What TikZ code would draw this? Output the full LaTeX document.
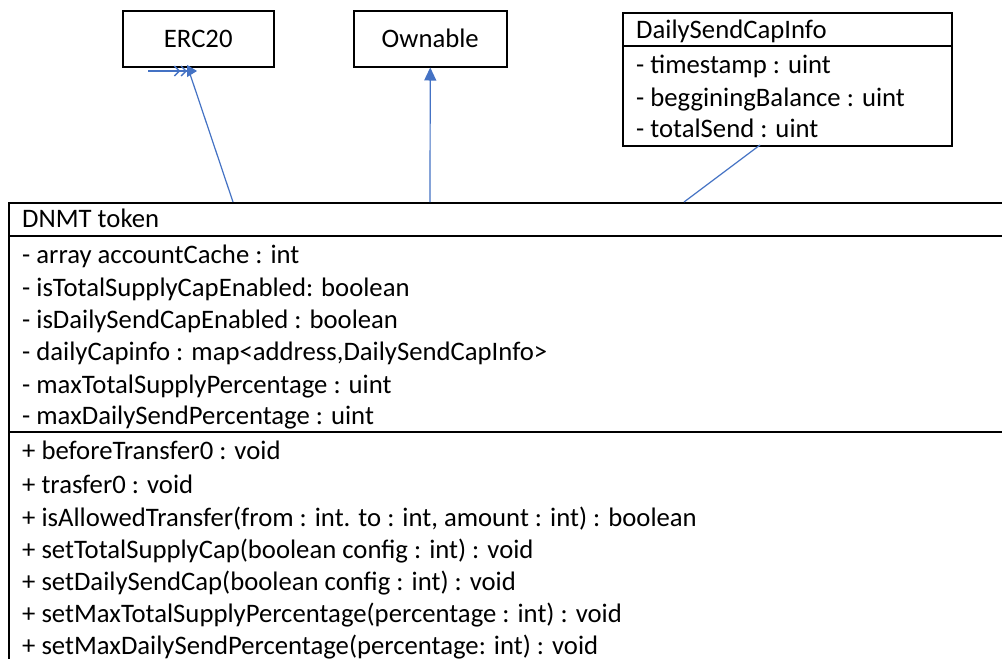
\documentclass[tikz,border=0pt]{standalone}
\usepackage{fontspec}
\setmainfont{Carlito}
\usetikzlibrary{arrows.meta}
\definecolor{umlblue}{RGB}{68,114,196}
\begin{document}
\begin{tikzpicture}[x=1pt,y=-1pt,
  classbox/.style={draw=black, line width=1.5pt, inner sep=0pt, anchor=north west},
  txt/.style={anchor=base west, inner sep=0pt, font=\fontsize{26.7}{30}\selectfont},
  ctxt/.style={inner sep=0pt, font=\fontsize{26.7}{30}\selectfont},
  sep/.style={draw=black, line width=1.5pt},
  link/.style={draw=umlblue, line width=1.2pt}]
\useasboundingbox (0,0) rectangle (1002,659);
\fill[white] (0,0) rectangle (1002,659);

% ERC20 and Ownable
\node[classbox, minimum width=151pt, minimum height=56pt] (erc) at (122,10) {};
\node[ctxt] (erct) at (erc.center) {ERC20};
\node[classbox, minimum width=153pt, minimum height=56pt] (own) at (353,10) {};
\node[ctxt] (ownt) at (own.center) {Ownable};

% DailySendCapInfo
\node[classbox, minimum width=329pt, minimum height=133pt] (dsci) at (622,12) {};
\draw[sep] (622,46) -- (951,46);
\node[txt] (d0) at (636,38) {DailySendCapInfo};
\node[txt] (d1) at (636,73) {- timestamp : uint};
\node[txt] (d2) at (636,106) {- beggining\-Balance : uint};
\node[txt] (d3) at (636,137) {- totalSend : uint};

% DNMT token
\node[classbox, minimum width=1010pt, minimum height=480pt] (dnmt) at (8,202) {};
\draw[sep] (8,236) -- (1010,236);
\draw[sep] (8,432) -- (1010,432);
\node[txt] (h) at (22,227) {DNMT token};
\node[txt] (a1) at (22,263) {- array accountCache : int};
\node[txt] (a2) at (22,296) {- isTotalSupplyCapEnabled: boolean};
\node[txt] (a3) at (22,328) {- isDailySendCapEnabled : boolean};
\node[txt] (a4) at (22,360) {- dailyCapinfo : map<address,DailySendCapInfo>};
\node[txt] (a5) at (22,393) {- maxTotalSupplyPercentage : uint};
\node[txt] (a6) at (22,424) {- maxDailySendPercentage : uint};
\node[txt] (m1) at (22,459) {+ beforeTransfer0 : void};
\node[txt] (m2) at (22,493) {+ trasfer0 : void};
\node[txt] (m3) at (22,526) {+ isAllowedTransfer(from : int. to : int, amount : int) : boolean};
\node[txt] (m4) at (22,558) {+ setTotalSupplyCap(boolean config : int) : void};
\node[txt] (m5) at (22,590) {+ setDailySendCap(boolean config : int) : void};
\node[txt] (m6) at (22,622) {+ setMaxTotalSupplyPercentage(percentage : int) : void};
\node[txt] (m7) at (22,654) {+ setMaxDailySendPercentage(percentage: int) : void};

% connectors
\coordinate (ercin) at (189,71);
\coordinate (ercstub) at (148,71);
\draw[link] (dnmt.north west) ++(225,0) coordinate (dA) -- (ercin);
\draw[link, -{Straight Barb[length=5pt,width=10pt,line width=1.4pt]Straight Barb[length=5pt,width=10pt,line width=1.4pt]Triangle[length=10pt,width=12pt]}] (ercstub) -- (197,71);
\draw[link, -{Triangle[length=13pt,width=12pt]}] (dnmt.north west) ++(422,0) -- (own.south);
\draw[link] (dnmt.north west) ++(676,0) -- (760,145);
\end{tikzpicture}
\end{document}
